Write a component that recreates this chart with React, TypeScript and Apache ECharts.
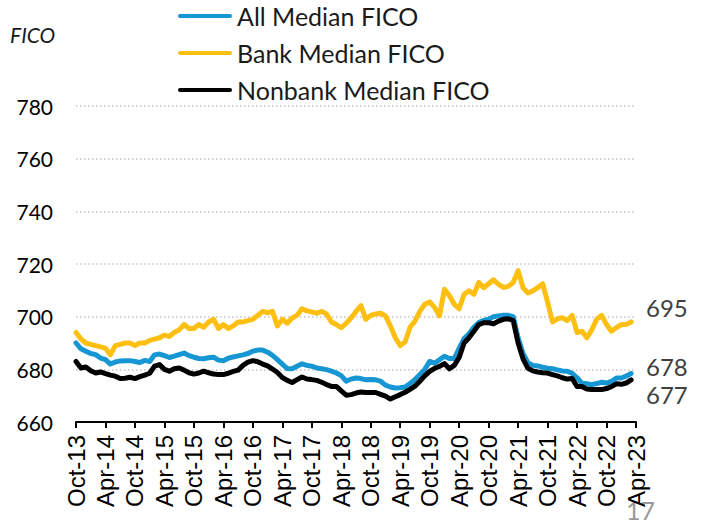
import React, { useEffect, useRef } from "react";
import * as echarts from "echarts";

const MONTHS = ["Jan", "Feb", "Mar", "Apr", "May", "Jun", "Jul", "Aug", "Sep", "Oct", "Nov", "Dec"];
// Monthly categories Oct-13 .. Apr-23
const categories: string[] = [];
for (let k = 0; k < 115; k++) {
  const m = (9 + k) % 12;
  const y = 13 + Math.floor((9 + k) / 12);
  categories.push(`${MONTHS[m]}-${y}`);
}

const seriesNames = ["All Median FICO", "Bank Median FICO", "Nonbank Median FICO"];

const allMedian = [
  690, 687.8, 686.9, 686, 685.6, 684.3, 683.7, 682, 682.8, 683.2,
  683.3, 683.3, 683, 682.6, 683.4, 683, 685.5, 685.8, 685.2, 684.5,
  685, 685.6, 686.2, 685.2, 684.6, 684.1, 684, 684.4, 684.6, 683.5,
  683.3, 684.2, 684.7, 685.1, 685.5, 686, 686.9, 687.3, 687.3, 686.5,
  685.3, 683.7, 682, 680.3, 680.2, 681.2, 682.1, 681.5, 681.2, 680.5,
  680.2, 679.9, 679.3, 678.6, 677.6, 675.5, 676.3, 676.7, 676.5, 676,
  676.1, 676, 675.5, 674, 673.3, 672.9, 673, 673.3, 674.6, 676.1,
  678, 680, 683, 682.4, 683.6, 685, 684.1, 684.1, 688, 691.7,
  693.5, 696, 697.8, 698.6, 699, 700, 700.3, 700.5, 700.5, 700,
  692, 686, 682.5, 681.5, 681.3, 680.8, 680.4, 680.2, 679.8, 679.4,
  679.3, 678.5, 676.8, 674.7, 674.5, 674.2, 674.6, 675.1, 674.8, 675.4,
  676.7, 676.7, 677.4, 678.4,
];

const bankMedian = [
  694, 691.5, 690, 689.5, 689, 688.5, 688, 685.5, 689, 689.5,
  690, 690, 689, 690, 690, 691, 691.5, 692, 693, 692.5,
  694, 695, 697, 695.5, 695.5, 697, 696, 698, 699, 695.5,
  697, 695.5, 696.5, 698, 698, 698.5, 699, 700.5, 702, 701.5,
  702, 696.5, 699, 697.5, 699.5, 700.5, 703, 702.2, 701.8, 701.3,
  702, 701, 698, 697, 695.8, 697.5, 699.5, 702, 704.2, 699,
  700.5, 701, 701.3, 700.3, 696.5, 692, 689, 690.5, 696, 698.3,
  702, 704.7, 705.6, 703.5, 700.3, 710.4, 708, 704.7, 703, 708.5,
  709.8, 708.5, 713, 711, 712.5, 714, 712.3, 711.1, 711.5, 713,
  717.5, 711, 709, 709.8, 711, 712.5, 705.5, 698, 699.2, 699.6,
  698.5, 700.5, 694, 694.5, 692, 695, 699, 700.5, 697, 694.5,
  695.8, 697, 697, 698,
];

const nonbankMedian = [
  683, 680.5, 680.9, 679.5, 678.6, 679, 678.4, 677.8, 677.4, 676.5,
  676.6, 677, 676.5, 677.2, 677.8, 678.5, 681.2, 681.8, 680, 679.3,
  680.2, 680.5, 679.7, 678.7, 678.2, 678.6, 679.3, 678.7, 678.2, 678,
  678, 678.5, 679.2, 679.7, 681.5, 682.7, 683.3, 682.9, 682, 681.3,
  680.1, 678.8, 676.9, 675.8, 675, 676.1, 677.1, 676.3, 676.1, 675.8,
  675.1, 674.2, 673.5, 673.5, 671.8, 670.2, 670.4, 671, 671.4, 671.2,
  671.2, 671.2, 670.5, 669.8, 668.7, 669.6, 670.4, 671.3, 672.4, 673.6,
  675.5, 677.5, 679.2, 680.4, 681.1, 682.2, 680.2, 681.5, 684.5, 690,
  692, 694.5, 697, 697.7, 697.7, 697.3, 698.3, 699, 699.2, 698.5,
  690, 684, 680.4, 679.4, 679, 678.7, 678.6, 678, 677.5, 676.8,
  676.3, 676.5, 673.5, 673.5, 672.5, 672.3, 672.3, 672.3, 672.7, 673.4,
  674.5, 674.3, 674.8, 676,
];

const endNotes = ["695", "678", "677"];
const yTicks = { min: 660, max: 780, interval: 20 };
const colors = ["#1696d2", "#fdbf11", "#000000"];

const capsule = "path://M2,0 L52,0 A2,2 0 0 1 52,4 L2,4 A2,2 0 0 1 2,0 Z";

export default function App() {
  const ref = useRef<HTMLDivElement>(null);
  useEffect(() => {
    if (!ref.current) return;
    const chart = echarts.init(ref.current, null, { renderer: "svg" });
    const seriesData = [allMedian, bankMedian, nonbankMedian];
    chart.setOption({
      animation: false,
      color: colors,
      grid: { left: 76, right: 67, top: 106, bottom: 101, containLabel: false },
      legend: {
        data: seriesNames.map((n) => ({ name: n, icon: capsule })),
        orient: "vertical",
        left: 178,
        top: 3,
        padding: 0,
        itemWidth: 54,
        itemHeight: 5,
        itemGap: 11,
        textStyle: { fontFamily: "Lato", fontSize: 25, color: "#1a1a1a", lineHeight: 26 },
      },
      xAxis: {
        type: "category",
        data: categories,
        boundaryGap: false,
        axisLine: { lineStyle: { color: "#000", width: 2 } },
        axisTick: { interval: 5, length: 6, lineStyle: { color: "#000", width: 2 } },
        axisLabel: {
          interval: 5,
          rotate: 90,
          margin: 13,
          fontFamily: "Liberation Sans",
          fontSize: 24,
          color: "#000",
        },
        splitLine: { show: false },
      },
      yAxis: {
        type: "value",
        min: yTicks.min,
        max: yTicks.max,
        interval: yTicks.interval,
        axisLine: { show: false },
        axisTick: { show: false },
        axisLabel: { fontFamily: "Lato", fontSize: 21, color: "#000", margin: 23 },
        splitLine: { lineStyle: { color: "#c4c4c4", width: 1.5, type: [1.5, 2.5] } },
      },
      series: seriesNames.map((name, i) => ({
        name,
        type: "line",
        data: seriesData[i],
        symbol: "none",
        showSymbol: false,
        lineStyle: { width: 5, color: colors[i], join: "round", cap: "round" },
        itemStyle: { color: colors[i] },
      })),
      graphic: [
        {
          type: "text",
          left: 10,
          top: 24,
          style: { text: "FICO", fontFamily: "Lato", fontStyle: "italic", fontSize: 21, fill: "#1a1a1a" },
        },
        ...endNotes.map((t, i) => ({
          type: "text",
          left: 646,
          top: [295, 354, 382][i],
          style: { text: t, fontFamily: "Lato", fontSize: 24, fill: "#404040" },
        })),
        {
          type: "text",
          left: 626,
          top: 497,
          style: { text: "17", fontFamily: "Lato", fontSize: 25, fill: "#999999" },
        },
      ],
    });
    return () => chart.dispose();
  }, []);
  return (
    <div
      ref={ref}
      style={{ position: "fixed", left: 0, top: 0, width: 703, height: 523, background: "#fff" }}
    />
  );
}
